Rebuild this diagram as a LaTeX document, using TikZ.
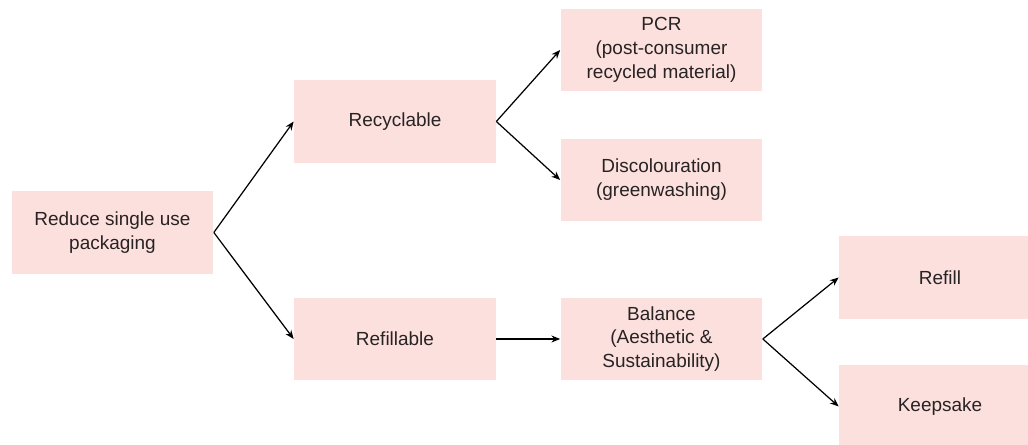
\documentclass[tikz,border=0pt]{standalone}
\usepackage{fontspec}
\setmainfont{Liberation Sans}
\usetikzlibrary{arrows.meta}
\definecolor{boxpink}{RGB}{252,224,222}
\definecolor{txtgray}{RGB}{40,35,35}

\begin{document}
\begin{tikzpicture}[x=0.02cm,y=-0.02cm]
 	\tikzset{idea/.style={fill=boxpink, text=txtgray, minimum width=4.04cm, minimum height=1.66cm,
 	  align=center, inner sep=0pt, font=\fontsize{10.8}{13.6}\selectfont},
 	  link/.style={black, line width=0.7pt, -{Stealth[length=5pt,width=4pt]}}}
 	\useasboundingbox (0,0) rectangle (1028,445);
 	\clip (0,0) rectangle (1028,445);
 	\node [idea] (reduce) at (112.5,232.5) {Reduce single use\\packaging};
 	\node [idea] (recyc) at (395,121.5) {Recyclable};
 	\node [idea] (refilla) at (395,339) {Refillable};
 	\node [idea] (pcr) at (661.5,50) {PCR\\(post-consumer\\recycled material)};
 	\node [idea] (discol) at (661.5,180) {Discolouration\\(greenwashing)};
 	\node [idea] (balance) at (661.5,339) {Balance\\(Aesthetic \&\\Sustainability)};
 	\node [idea] (refill) at (940,277.5) {Refill};
 	\node [idea] (keep) at (940,406.5) {Keepsake};
 	\draw [link] (reduce.east) -- (recyc.west);
 	\draw [link] (reduce.east) -- (refilla.west);
 	\draw [link] (recyc.east) -- (pcr.west);
 	\draw [link] (recyc.east) -- (discol.west);
 	\draw [link] (refilla.east) -- (balance.west);
 	\draw [link] (balance.east) -- (refill.west);
 	\draw [link] (balance.east) -- (keep.west);
\end{tikzpicture}
\end{document}
